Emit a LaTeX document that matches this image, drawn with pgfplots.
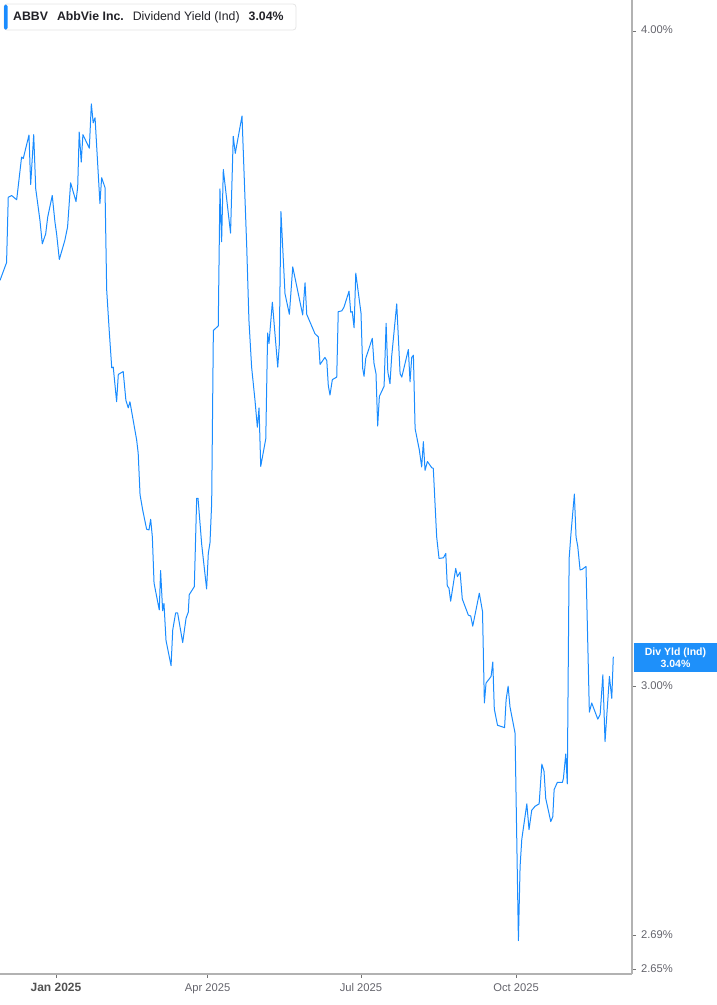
\documentclass[border=0pt]{standalone}
\usepackage{pgfplots}
\pgfplotsset{compat=1.18}
\usepackage{pgfplotstable}
\usepackage{fontspec}
\setmainfont{Liberation Sans}
\definecolor{lineblue}{RGB}{26,140,255}
\definecolor{badgeblue}{RGB}{30,144,250}
\definecolor{axisgray}{RGB}{178,178,178}
\definecolor{labelgray}{RGB}{100,100,108}
\definecolor{titlegray}{RGB}{34,34,40}
\pgfplotstableread{
day yld
-33.2 3.586
-29.3 3.614
-28.3 3.719
-26.3 3.722
-23.3 3.715
-20.4 3.785
-19.4 3.783
-16.0 3.822
-15.0 3.740
-13.2 3.823
-12.0 3.733
-9.5 3.682
-8.1 3.644
-6.1 3.660
-4.9 3.687
-2.2 3.722
-0.6 3.679
0.4 3.660
2.0 3.619
5.3 3.650
6.9 3.671
8.7 3.743
11.9 3.712
12.9 3.736
13.8 3.827
15.0 3.777
16.0 3.823
19.8 3.800
21.0 3.875
22.1 3.843
23.2 3.851
26.1 3.709
27.1 3.751
29.1 3.735
30.1 3.571
31.6 3.508
33.1 3.451
34.0 3.452
36.0 3.400
37.0 3.441
39.9 3.445
41.5 3.402
42.9 3.391
43.9 3.400
47.9 3.343
48.8 3.324
49.9 3.264
51.5 3.242
53.8 3.215
55.2 3.214
56.2 3.229
57.2 3.204
58.2 3.140
61.3 3.103
62.1 3.157
63.3 3.102
64.1 3.112
65.3 3.062
68.3 3.028
69.3 3.076
71.0 3.099
72.2 3.099
75.2 3.059
77.2 3.092
78.5 3.100
79.1 3.124
82.1 3.135
83.5 3.259
84.3 3.259
86.5 3.193
89.4 3.132
90.4 3.181
91.4 3.196
92.4 3.252
93.4 3.508
96.3 3.515
97.3 3.733
98.3 3.647
99.3 3.765
103.6 3.661
105.2 3.820
106.4 3.792
110.4 3.854
113.2 3.639
114.5 3.524
116.1 3.452
118.1 3.402
119.5 3.362
120.5 3.391
121.5 3.305
124.5 3.345
125.6 3.504
126.4 3.488
128.4 3.552
131.6 3.452
132.5 3.485
133.5 3.696
135.9 3.565
138.5 3.533
140.5 3.607
146.4 3.532
147.8 3.582
148.8 3.533
153.7 3.503
155.7 3.498
156.7 3.456
159.6 3.467
160.7 3.462
161.6 3.424
162.6 3.410
164.0 3.433
166.6 3.437
167.5 3.537
169.6 3.538
170.9 3.544
173.9 3.569
174.9 3.536
175.8 3.537
176.9 3.512
177.9 3.597
181.0 3.535
182.0 3.450
182.8 3.438
183.8 3.465
187.7 3.496
188.7 3.458
189.9 3.442
190.9 3.364
191.9 3.408
194.7 3.423
195.9 3.519
196.9 3.445
198.2 3.427
199.2 3.468
202.2 3.549
204.2 3.442
205.2 3.437
209.1 3.479
210.1 3.430
211.1 3.467
212.1 3.470
213.1 3.360
215.6 3.329
217.0 3.304
218.0 3.341
219.0 3.299
220.4 3.312
223.0 3.303
223.9 3.302
225.9 3.204
227.3 3.174
229.9 3.175
231.3 3.181
232.2 3.136
233.2 3.133
234.2 3.115
237.2 3.160
238.2 3.149
239.8 3.155
241.1 3.118
244.7 3.096
246.1 3.095
247.3 3.081
251.2 3.126
253.1 3.101
254.2 2.979
255.2 3.005
258.2 3.014
259.2 3.033
260.1 2.971
262.0 2.950
266.2 2.947
267.1 2.983
268.3 3.001
269.4 2.974
272.4 2.940
274.4 2.684
275.4 2.773
276.4 2.806
279.4 2.850
280.7 2.818
282.3 2.842
284.3 2.847
286.7 2.850
288.3 2.900
289.6 2.891
290.6 2.857
293.6 2.828
294.8 2.834
295.6 2.868
297.5 2.877
300.5 2.877
301.1 2.882
302.5 2.913
303.4 2.875
304.5 3.174
305.6 3.209
307.6 3.265
308.6 3.204
309.6 3.191
311.0 3.158
312.3 3.159
314.5 3.163
316.5 2.967
317.9 2.979
321.5 2.958
322.9 2.964
324.5 3.016
325.8 2.929
328.4 3.014
329.8 2.985
330.7 3.040
}\abbv
\begin{document}
\begin{tikzpicture}[x=1pt,y=1pt]
\path[use as bounding box] (0,0) rectangle (717,-1005);
\begin{axis}[
  at={(0,0)}, anchor=north west,
  scale only axis, width=632pt, height=974pt,
  xmin=-33.2, xmax=341.8,
  ymode=log, ymin=2.645, ymax=4.055,
  axis x line*=bottom, axis y line*=right,
  axis line style={axisgray, line width=1.5pt},
  xtick={0,90,181,273},
  xticklabels={{\color{black!68}\bfseries\fontsize{12}{14}\selectfont Jan 2025},Apr 2025,Jul 2025,Oct 2025},
  ytick={2.65,2.69,3,4},
  yticklabels={2.65\%,2.69\%,3.00\%,4.00\%},
  yminorticks=false, xminorticks=false,
  tick align=outside,
  major tick length=4pt,
  every tick/.style={black!55, line width=0.9pt},
  tick label style={font=\fontsize{11.2}{13}\selectfont, text=labelgray},
  xticklabel style={yshift=-1pt},
  yticklabel style={xshift=1.5pt},
  typeset ticklabels with strut,
  clip=true,
]
\addplot[lineblue, line width=1pt, line join=round] table[x=day, y=yld]{\abbv};
\end{axis}
% title box
\draw[rounded corners=3pt, draw=black!10, fill=white, line width=0.8pt] (4,-4) rectangle (296,-30);
\fill[lineblue, rounded corners=1.5pt] (4,-4.5) rectangle (7.5,-29.5);
\node[anchor=west, inner sep=0pt, text=titlegray, font=\fontsize{12.3}{14}\selectfont] at (13,-17)
  {\textbf{ABBV}\hspace{9pt}\textbf{AbbVie Inc.}\hspace{9pt}Dividend Yield (Ind)\hspace{9pt}\textbf{3.04\%}};
% badge
\fill[badgeblue] (634,-643) rectangle (717,-672);
\node[align=center, text=white, font=\bfseries\fontsize{10.5}{11.5}\selectfont, inner sep=0pt] at (675.5,-657.5)
  {Div Yld (Ind)\\3.04\%};
\end{tikzpicture}
\end{document}
